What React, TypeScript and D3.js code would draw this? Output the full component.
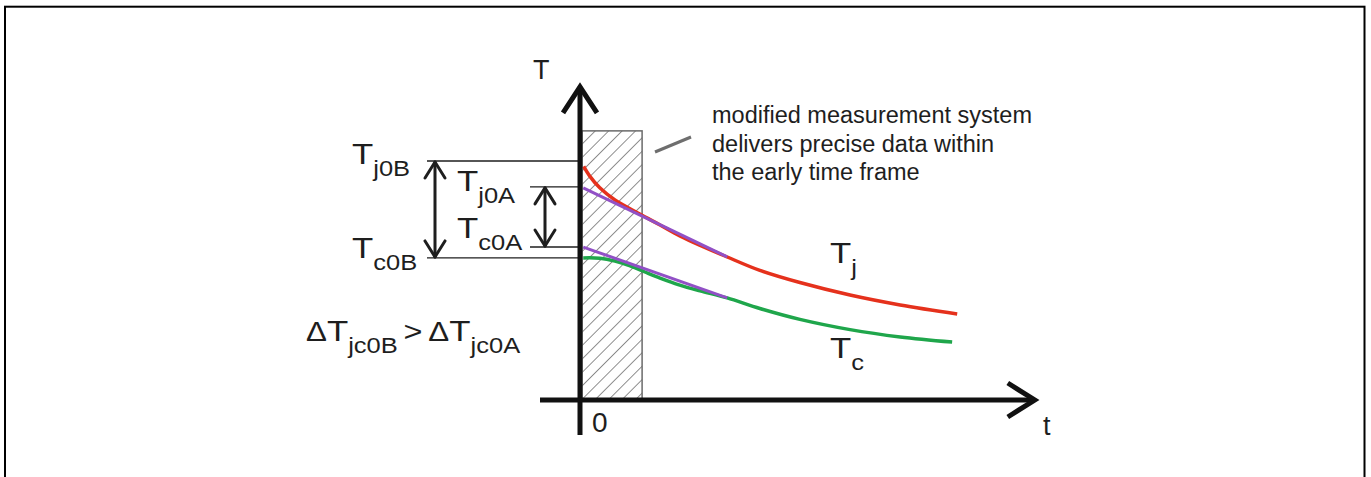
import * as d3 from "d3";
import React from "react";

// junction temperature Tj (red), time t / temperature T in arbitrary units
const tjTime = [0.08, 0.22, 0.43, 0.76, 1.3, 1.74, 2.17, 2.6, 3.15, 3.91, 4.78, 5.87, 6.96, 8.2];
const tjTemp = [7.3, 6.98, 6.63, 6.25, 5.81, 5.47, 5.13, 4.84, 4.5, 4.05, 3.67, 3.28, 2.97, 2.69];

// case temperature Tc (green)
const tcTime = [0.07, 0.43, 0.76, 1.09, 1.41, 1.74, 2.17, 2.61, 3.2, 3.91, 4.78, 5.87, 6.96, 8.09];
const tcTemp = [4.44, 4.43, 4.34, 4.19, 4.0, 3.81, 3.59, 3.41, 3.19, 2.86, 2.52, 2.2, 1.97, 1.81];

// sqrt(t) extrapolations (purple)
const fitTime = [0.07, 3.2];
const fitJ = [6.63, 4.47];
const fitC = [4.78, 3.19];

// start levels
const levels = { j0B: 7.47, j0A: 6.66, c0A: 4.78, c0B: 4.44 };
const windowEnd = 1.35; // end of the early time frame
const windowTop = 8.41;

const note = [
  "modified measurement system",
  "delivers precise data within",
  "the early time frame",
];

const W = 1371;
const H = 477;
const font = "'Liberation Sans', Arial, sans-serif";
const ink = "#1e1e1e";
const stretch = 1.16; // the source glyphs are a bit wide

const x = d3.scaleLinear().domain([0, 10]).range([580, 1040]);
const y = d3.scaleLinear().domain([0, 10]).range([400, 80]);

const line = d3
  .line<[number, number]>()
  .x((d) => x(d[0]))
  .y((d) => y(d[1]))
  .curve(d3.curveCatmullRom.alpha(0.5));

const zip = (a: number[], b: number[]) => a.map((v, i) => [v, b[i]] as [number, number]);

// label with a subscript, e.g. T_j0B
const Sub = ({ px, py, sub, size = 30, subSize = 22 }: any) => (
  <text
    transform={`translate(${px},${py}) scale(${stretch},1)`}
    fontSize={size}
    fontFamily={font}
    fill={ink}
  >
    T
    <tspan dy={subSize * 0.55} fontSize={subSize}>
      {sub}
    </tspan>
  </text>
);

const DoubleArrow = ({ ax, y1, y2 }: any) => (
  <g stroke={ink} strokeWidth={3} fill="none" strokeLinecap="round" strokeLinejoin="round">
    <line x1={ax} x2={ax} y1={y1 + 1} y2={y2 - 1} />
    <polyline points={`${ax - 10},${y1 + 17} ${ax},${y1 + 1} ${ax + 10},${y1 + 17}`} />
    <polyline points={`${ax - 10},${y2 - 17} ${ax},${y2 - 1} ${ax + 10},${y2 - 17}`} />
  </g>
);

export default function App() {
  const x0 = x(0);
  const y0 = y(0);
  const yj0B = y(levels.j0B);
  const yj0A = y(levels.j0A);
  const yc0A = y(levels.c0A);
  const yc0B = y(levels.c0B);
  const topTip = y(9.85);
  const rightTip = x(9.93);

  return (
    <svg
      width={W}
      height={H}
      style={{ position: "absolute", left: 0, top: 0, display: "block", background: "#fff" }}
    >
      <defs>
        <pattern id="hatch" width={9.5} height={9.5} patternUnits="userSpaceOnUse" patternTransform="rotate(45)">
          <line x1={0} y1={0} x2={0} y2={9.5} stroke="#333" strokeWidth={1.1} />
        </pattern>
      </defs>

      {/* frame */}
      <rect x={5} y={6.7} width={1359.5} height={H + 20} fill="none" stroke="#000" strokeWidth={2} />

      {/* early time window */}
      <rect
        x={x0 + 2}
        y={y(windowTop)}
        width={x(windowEnd) - x0 - 2}
        height={y0 - y(windowTop)}
        fill="url(#hatch)"
        stroke="#6a6a6a"
        strokeWidth={1.5}
      />

      {/* level lines */}
      <g stroke={ink} strokeWidth={1.4}>
        <line x1={427} x2={x0} y1={yj0B} y2={yj0B} />
        <line x1={530} x2={x0} y1={yj0A} y2={yj0A} />
        <line x1={530} x2={x0} y1={yc0A} y2={yc0A} />
        <line x1={427} x2={x0} y1={yc0B} y2={yc0B} />
      </g>
      <DoubleArrow ax={435} y1={yj0B} y2={yc0B} />
      <DoubleArrow ax={545} y1={yj0A} y2={yc0A} />

      {/* curves */}
      <path d={line(zip(tjTime, tjTemp)) ?? ""} fill="none" stroke="#e5311c" strokeWidth={3.5} />
      <path d={line(zip(tcTime, tcTemp)) ?? ""} fill="none" stroke="#1fa64b" strokeWidth={3.5} />
      <path d={line(zip(fitTime, fitJ)) ?? ""} fill="none" stroke="#9150c6" strokeWidth={3} />
      <path d={line(zip(fitTime, fitC)) ?? ""} fill="none" stroke="#9150c6" strokeWidth={3} />

      {/* axes */}
      <g stroke="#111" strokeWidth={5} fill="none" strokeLinejoin="miter">
        <line x1={x0} x2={x0} y1={435} y2={topTip + 2} />
        <polyline points={`${x0 - 17},${topTip + 28} ${x0},${topTip + 2} ${x0 + 17},${topTip + 28}`} />
        <line x1={540} x2={rightTip - 2} y1={y0} y2={y0} />
        <polyline points={`${rightTip - 29},${y0 - 17} ${rightTip - 2},${y0} ${rightTip - 29},${y0 + 17}`} />
      </g>
      <text x={533} y={79} fontSize={27} fontFamily={font} fill={ink}>T</text>
      <text x={1043} y={435} fontSize={27} fontFamily={font} fill={ink}>t</text>
      <text x={592} y={432} fontSize={28} fontFamily={font} fill={ink}>0</text>

      {/* level labels */}
      <Sub px={352} py={164} sub="j0B" />
      <Sub px={457} py={191} sub="j0A" />
      <Sub px={457} py={238} sub="c0A" />
      <Sub px={352} py={258} sub="c0B" />

      <text
        transform={`translate(306,341) scale(${stretch},1)`}
        fontSize={30}
        fontFamily={font}
        fill={ink}
      >
        <tspan fontSize={27}>Δ</tspan>T
        <tspan dy={12} fontSize={22}>jc0B</tspan>
        <tspan dy={-12} dx={5} fontSize={28}>{">"}</tspan>
        <tspan dx={5} fontSize={27}>Δ</tspan>T
        <tspan dy={12} fontSize={22}>jc0A</tspan>
      </text>

      {/* curve labels */}
      <Sub px={830} py={263} sub="j" />
      <Sub px={830} py={358} sub="c" />

      {/* callout */}
      <line x1={655} y1={152} x2={691} y2={137} stroke="#6e6e6e" strokeWidth={3} />
      {note.map((s, i) => (
        <text key={i} x={712} y={123 + i * 28.5} fontSize={23.5} fontFamily={font} fill={ink}>
          {s}
        </text>
      ))}
    </svg>
  );
}
